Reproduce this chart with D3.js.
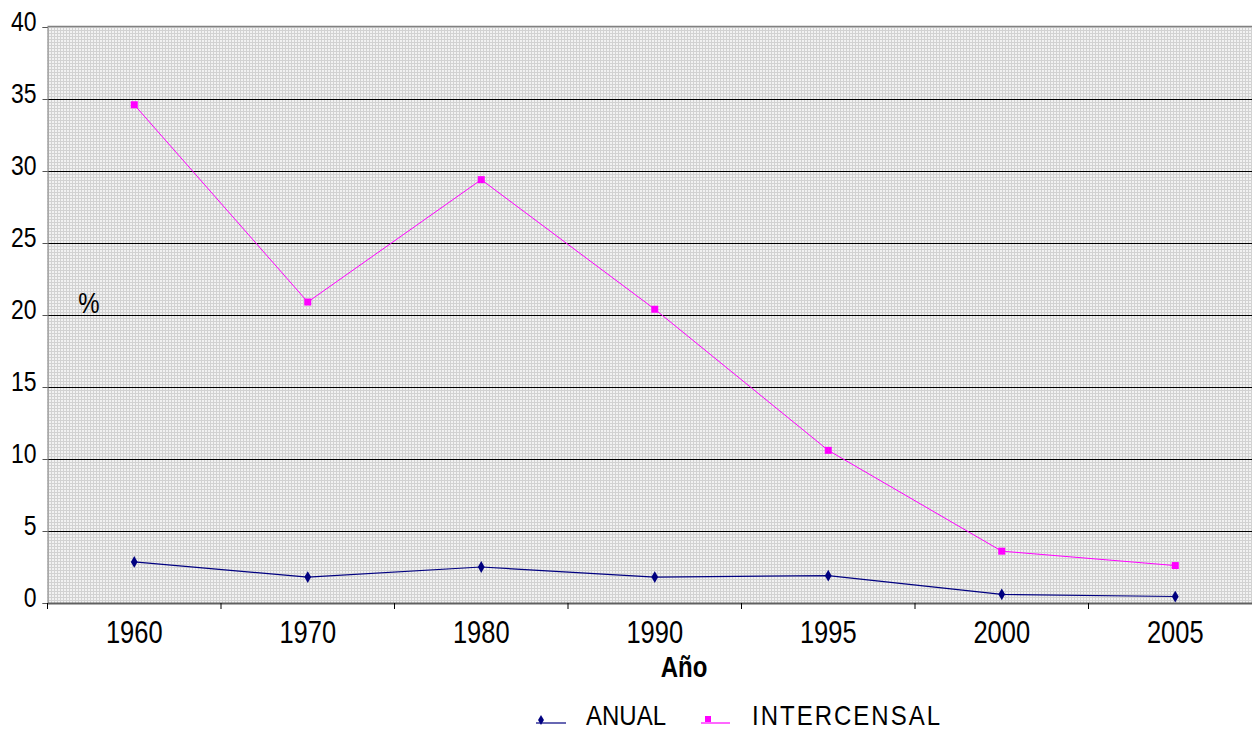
<!DOCTYPE html>
<html>
<head>
<meta charset="utf-8">
<script src="https://cdn.jsdelivr.net/npm/d3@7"></script>
<style>
  body { margin: 0; background: #fff; }
  svg { display: block; font-family: "Liberation Sans", Arial, sans-serif; }
</style>
</head>
<body>
<div class="chart"></div>
<script>
const years = ["1960", "1970", "1980", "1990", "1995", "2000", "2005"];
const anual = [2.85, 1.8, 2.5, 1.8, 1.9, 0.6, 0.45];
const intercensal = [34.6, 20.9, 29.4, 20.4, 10.6, 3.6, 2.6];
const yTicks = [0, 5, 10, 15, 20, 25, 30, 35, 40];

let width = 1252, height = 730;
let plotLeft = 47.5, plotTop = 27, plotBottom = 603;
let stretch = 1.2;

let svg = d3.select(".chart").append("svg")
  .attr("width", width)
  .attr("height", height);

// text in the original is a bit taller than wide
function label(g, tx, ty, str, anchor, size, bold, sy) {
  return g.append("text")
    .attr("transform", "translate(" + tx + "," + ty + ") scale(1," + (sy || stretch) + ")")
    .attr("text-anchor", anchor)
    .attr("font-size", size)
    .attr("font-weight", bold ? "bold" : "normal")
    .attr("fill", "#000")
    .text(str);
}

let defs = svg.append("defs");
let pat = defs.append("pattern")
  .attr("id", "grid")
  .attr("width", 3).attr("height", 3)
  .attr("patternUnits", "userSpaceOnUse");
pat.append("rect").attr("width", 3).attr("height", 3).attr("fill", "#f2f2f2");
pat.append("rect").attr("width", 3).attr("height", 1).attr("fill", "#d2d2d2");
pat.append("rect").attr("width", 1).attr("height", 3).attr("fill", "#d2d2d2");

let x = d3.scaleBand().domain(years).range([plotLeft, plotLeft + 7 * 173.5]);
let y = d3.scaleLinear().domain([0, 40]).range([plotBottom, plotTop]);

// plot background
svg.append("rect")
  .attr("x", plotLeft).attr("y", plotTop)
  .attr("width", x.range()[1] - plotLeft).attr("height", plotBottom - plotTop)
  .attr("fill", "url(#grid)");

// horizontal grid lines
svg.append("g").selectAll("line")
  .data(yTicks.filter(d => d > 0 && d < 40))
  .enter().append("line")
  .attr("x1", plotLeft).attr("x2", width)
  .attr("y1", d => Math.round(y(d)) + 0.5).attr("y2", d => Math.round(y(d)) + 0.5)
  .attr("stroke", "#000").attr("stroke-width", 1);

// top border
svg.append("line")
  .attr("x1", plotLeft).attr("x2", width)
  .attr("y1", plotTop - 0.5).attr("y2", plotTop - 0.5)
  .attr("stroke", "#808080").attr("stroke-width", 1.5);

// y axis
let yAxis = svg.append("g")
  .attr("transform", "translate(" + plotLeft + ",0)")
  .call(d3.axisLeft(y).tickValues(yTicks).tickSize(5).tickPadding(6));
yAxis.select(".domain").attr("stroke", "#808080");
yAxis.selectAll(".tick line").attr("stroke", "#555");
yAxis.selectAll("text")
  .attr("x", null).attr("dy", null)
  .attr("transform", "translate(-11,3) scale(1," + stretch + ")")
  .attr("font-size", 23).attr("fill", "#000")
  .attr("font-family", "Liberation Sans, Arial, sans-serif");

// x axis
let xAxis = svg.append("g")
  .attr("transform", "translate(0," + plotBottom + ")")
  .call(d3.axisBottom(x).tickSize(0).tickPadding(22));
xAxis.select(".domain").attr("stroke", "#606060").attr("stroke-width", 2);
xAxis.selectAll("text")
  .attr("y", null).attr("dy", null)
  .attr("transform", "translate(0,40) scale(1," + stretch + ")")
  .attr("font-size", 25.5).attr("fill", "#000")
  .attr("font-family", "Liberation Sans, Arial, sans-serif");

// x ticks on band boundaries
svg.append("g").selectAll("line")
  .data(years.slice(1))
  .enter().append("line")
  .attr("x1", d => x(d)).attr("x2", d => x(d))
  .attr("y1", plotBottom).attr("y2", plotBottom + 6)
  .attr("stroke", "#000");
svg.append("line")
  .attr("x1", plotLeft).attr("x2", plotLeft)
  .attr("y1", plotBottom).attr("y2", plotBottom + 6)
  .attr("stroke", "#000");

let cx = d => x(d) + x.bandwidth() / 2;

// lines
let line = d3.line()
  .x((d, i) => cx(years[i]))
  .y(d => y(d));

svg.append("path")
  .datum(intercensal)
  .attr("d", line)
  .attr("fill", "none")
  .attr("stroke", "#ff00ff")
  .attr("stroke-width", 1);

svg.append("path")
  .datum(anual)
  .attr("d", line)
  .attr("fill", "none")
  .attr("stroke", "#000080")
  .attr("stroke-width", 1.2);

// markers
svg.append("g").selectAll("rect")
  .data(intercensal)
  .enter().append("rect")
  .attr("x", (d, i) => cx(years[i]) - 3.5)
  .attr("y", d => y(d) - 3.5)
  .attr("width", 7).attr("height", 7)
  .attr("fill", "#ff00ff");

let diamond = d3.symbol().type(d3.symbolDiamond).size(40);
svg.append("g").selectAll("path")
  .data(anual)
  .enter().append("path")
  .attr("d", diamond)
  .attr("transform", (d, i) => "translate(" + cx(years[i]) + "," + y(d) + ")")
  .attr("fill", "#000080");

// axis titles
label(svg, 89, 313, "%", "middle", 24, false);
label(svg, 684, 677, "Año", "middle", 24, true);

// legend (kept just inside the bottom edge)
let legend = svg.append("g");
legend.append("line")
  .attr("x1", 536).attr("x2", 566).attr("y1", 723).attr("y2", 723)
  .attr("stroke", "#000080").attr("stroke-width", 1.2);
legend.append("path")
  .attr("d", d3.symbol().type(d3.symbolDiamond).size(30))
  .attr("transform", "translate(541,720)")
  .attr("fill", "#000080");
label(legend, 586, 724.5, "ANUAL", "start", 24, false, 1.15);

legend.append("line")
  .attr("x1", 701).attr("x2", 730).attr("y1", 723).attr("y2", 723)
  .attr("stroke", "#ff00ff").attr("stroke-width", 1.2);
legend.append("rect")
  .attr("x", 705).attr("y", 716).attr("width", 6).attr("height", 6)
  .attr("fill", "#ff00ff");
label(legend, 752, 724.5, "INTERCENSAL", "start", 24, false, 1.15)
  .attr("textLength", 188)
  .attr("lengthAdjust", "spacing");
</script>
</body>
</html>
